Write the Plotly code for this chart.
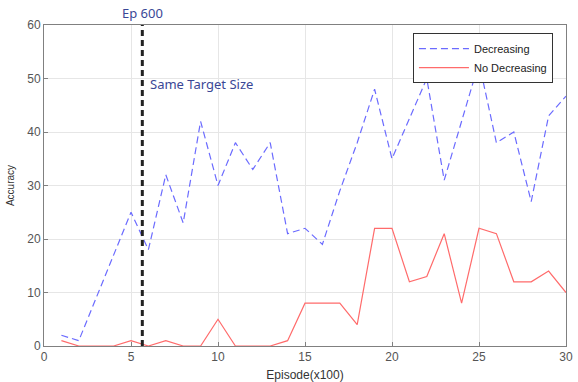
import plotly.graph_objects as go

episodes = list(range(1, 31))
decreasing = [2, 1, 9, 17, 25, 18, 32, 23, 42, 30, 38, 33, 38, 21, 22, 19, 29, 38, 48, 35,
              42.5, 50, 31, 42, 53, 38, 40, 27, 43, 46.7]
no_decreasing = [1, 0, 0, 0, 1, 0, 1, 0, 0, 5, 0, 0, 0, 1, 8, 8, 8, 4, 22, 22,
                 12, 13, 21, 8, 22, 21, 12, 12, 14, 10]
marker_x = 5.65
marker_label = "Ep 600"
marker_note = "Same Target Size"

fig = go.Figure()
fig.add_trace(go.Scatter(x=episodes, y=decreasing, mode="lines", name="Decreasing",
                         line=dict(color="#6b6bff", width=1.2, dash="7px,4px")))
fig.add_trace(go.Scatter(x=episodes, y=no_decreasing, mode="lines", name="No Decreasing",
                         line=dict(color="#ff6b6b", width=1.2)))
fig.add_trace(go.Scatter(x=[marker_x, marker_x], y=[0, 60], mode="lines", showlegend=False,
                         line=dict(color="#222222", width=3, dash="6px,4px")))

fig.add_annotation(x=marker_x, y=1, xref="x", yref="paper", yanchor="bottom", yshift=1,
                   text=marker_label, showarrow=False,
                   font=dict(family="Noto Sans", size=13, color="#3a4796"))
fig.add_annotation(x=marker_x, y=49, xref="x", yref="y", xanchor="left", xshift=6,
                   text=marker_note, showarrow=False,
                   font=dict(family="Noto Sans", size=13, color="#3a4796"))

axis_common = dict(showgrid=True, gridcolor="#e6e6e6", showline=True, linecolor="#808080",
                   mirror=True, ticks="inside", ticklen=4, tickcolor="#808080",
                   zeroline=False, automargin=False,
                   tickfont=dict(family="Liberation Sans", size=12, color="#555555"))
fig.update_xaxes(range=[0, 30], dtick=5, title=dict(text="Episode(x100)", standoff=9,
                 font=dict(family="Liberation Sans", size=12, color="#333333")), **axis_common)
fig.update_yaxes(range=[0, 60], dtick=10, title=dict(text="Accuracy", standoff=10,
                 font=dict(family="Liberation Sans", size=10, color="#333333")), **axis_common)

fig.update_layout(
    width=578, height=382,
    margin=dict(l=44, r=12, t=25, b=36),
    plot_bgcolor="white", paper_bgcolor="white",
    legend=dict(x=0.975, y=0.975, xanchor="right", yanchor="top",
                bordercolor="#333333", borderwidth=1, bgcolor="white",
                font=dict(family="Liberation Sans", size=11, color="#222222"),
                tracegroupgap=0, itemwidth=50),
)

fig.write_html("out.html")
